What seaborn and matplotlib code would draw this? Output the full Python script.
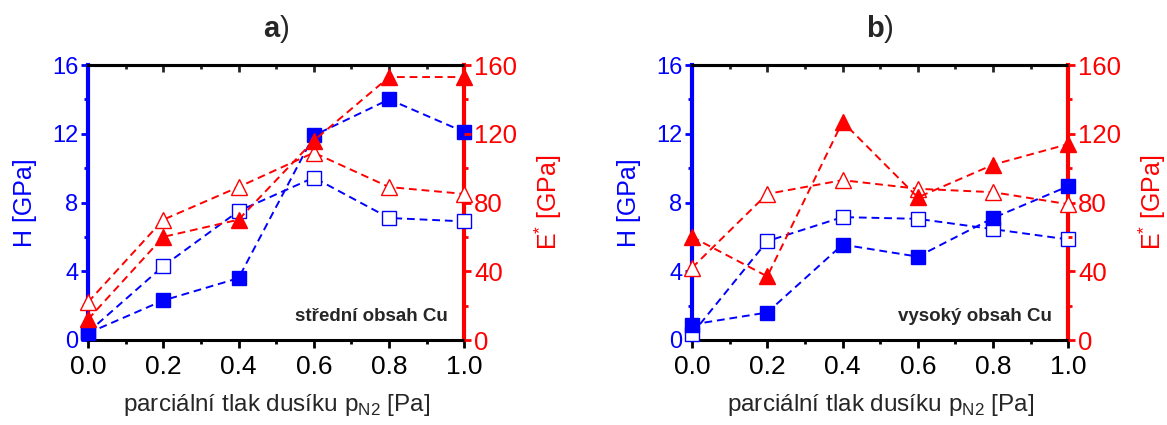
import numpy as np
import pandas as pd
import matplotlib
matplotlib.use("Agg")
import matplotlib.pyplot as plt
import seaborn as sns
from matplotlib.ticker import MultipleLocator

# pressure values (x)
p_n2 = [0.0, 0.2, 0.4, 0.6, 0.8, 1.0]

# panel a) - stredni obsah Cu
H_full_a = [0.4, 2.3, 3.6, 11.9, 14.0, 12.1]
H_open_a = [0.45, 4.3, 7.5, 9.45, 7.1, 6.9]
E_full_a = [12, 60, 70, 116, 153, 153]
E_open_a = [22, 70, 89, 109, 89, 85]

# panel b) - vysoky obsah Cu
H_full_b = [0.9, 1.6, 5.55, 4.85, 7.1, 8.95]
H_open_b = [0.35, 5.75, 7.15, 7.05, 6.45, 5.85]
E_full_b = [60, 37, 127, 83, 102, 114]
E_open_b = [42, 85, 93, 88, 86, 79]

panels = [
    ("a", "střední obsah Cu", H_full_a, H_open_a, E_full_a, E_open_a),
    ("b", "vysoký obsah Cu", H_full_b, H_open_b, E_full_b, E_open_b),
]

sns.set_theme(style="ticks")
plt.rcParams["font.family"] = ["Liberation Sans", "DejaVu Sans"]
plt.rcParams["mathtext.fontset"] = "custom"
plt.rcParams["mathtext.rm"] = "Liberation Sans"
plt.rcParams["mathtext.bf"] = "Liberation Sans:bold"

BLUE = "#0000ff"
RED = "#ff0000"

fig = plt.figure(figsize=(11.67, 4.25), dpi=100)
lefts = [88 / 1167, 692 / 1167]


def draw_series(ax, y, color, marker, filled, ms):
    df = pd.DataFrame({"p": p_n2, "v": y})
    sns.lineplot(data=df, x="p", y="v", ax=ax, color=color, marker=marker,
                 markersize=ms, markerfacecolor=color if filled else "white",
                 markeredgecolor=color, markeredgewidth=1.0,
                 linewidth=1.4, dashes=False, legend=False)
    line = ax.lines[-1]
    line.set_linestyle((0, (4, 2.5)))
    line.set_clip_on(False)
    line.set_zorder(3)


for i, (tag, note, hf, ho, ef, eo) in enumerate(panels):
    ax = fig.add_axes([lefts[i], 0.2, 0.3225, 0.647])
    ax2 = ax.twinx()

    draw_series(ax, ho, BLUE, "s", False, 9.5)
    draw_series(ax, hf, BLUE, "s", True, 9.5)
    draw_series(ax2, eo, RED, "^", False, 11)
    draw_series(ax2, ef, RED, "^", True, 11)

    ax.set_xlim(0, 1.0)
    ax.set_ylim(0, 16)
    ax2.set_ylim(0, 160)
    ax.xaxis.set_major_locator(MultipleLocator(0.2))
    ax.xaxis.set_minor_locator(MultipleLocator(0.1))
    ax.yaxis.set_major_locator(MultipleLocator(4))
    ax.yaxis.set_minor_locator(MultipleLocator(2))
    ax2.yaxis.set_major_locator(MultipleLocator(40))
    ax2.yaxis.set_minor_locator(MultipleLocator(20))
    ax.xaxis.set_major_formatter(matplotlib.ticker.FormatStrFormatter("%.1f"))

    # spines
    for s in ["top", "bottom"]:
        ax.spines[s].set_linewidth(2.2)
        ax.spines[s].set_color("black")
    ax.spines["left"].set_color(BLUE)
    ax.spines["left"].set_linewidth(3)
    ax.spines["right"].set_color(RED)
    ax.spines["right"].set_linewidth(3)
    ax.spines["right"].set_visible(True)
    for s in ["left", "top", "bottom", "right"]:
        ax2.spines[s].set_visible(False)

    ax.tick_params(axis="x", which="both", direction="out", colors="black",
                   width=2, labelsize=19, pad=5)
    ax.tick_params(axis="x", which="major", length=6)
    ax.tick_params(axis="x", which="minor", length=3)
    ax.tick_params(axis="y", which="both", direction="out", color=BLUE,
                   labelcolor=BLUE, width=2, labelsize=17, pad=2)
    ax.tick_params(axis="y", which="major", length=5)
    ax.tick_params(axis="y", which="minor", length=3)
    ax2.tick_params(axis="y", which="both", direction="out", color=RED,
                    labelcolor=RED, width=2, labelsize=18.5, pad=2)
    ax2.tick_params(axis="y", which="major", length=5)
    ax2.tick_params(axis="y", which="minor", length=3)

    # inward ticks along the top edge
    top = ax.secondary_xaxis("top")
    top.xaxis.set_major_locator(MultipleLocator(0.2))
    top.xaxis.set_minor_locator(MultipleLocator(0.1))
    top.tick_params(which="both", direction="in", width=2, labeltop=False)
    top.tick_params(which="major", length=5)
    top.tick_params(which="minor", length=3)
    top.spines["top"].set_linewidth(2.2)

    ax.set_xlabel(r"parciální tlak dusíku p$_{\mathregular{N2}}$ [Pa]",
                  fontsize=17.5, labelpad=9)
    ax.set_ylabel("H [GPa]", color=BLUE, fontsize=18)
    ax.yaxis.set_label_coords(-0.135, 0.5)
    ax2.set_ylabel(r"E$^{*}$ [GPa]", color=RED, fontsize=18)
    ax2.yaxis.set_label_coords(1.18, 0.5)

    ax.set_title(r"$\mathbf{" + tag + "}$)", fontsize=21, pad=20)
    ax.text(0.955, 0.084, note, transform=ax.transAxes, ha="right",
            va="center", fontsize=13.5, fontweight="bold", zorder=5)

fig.savefig("out.png", dpi=100)
